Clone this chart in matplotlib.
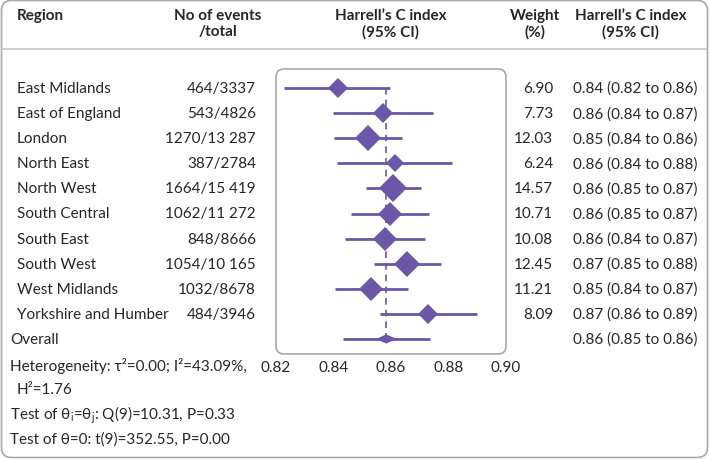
import matplotlib
matplotlib.use('agg')
import matplotlib.pyplot as plt
from matplotlib.patches import FancyBboxPatch, Polygon
import numpy as np

regions = ['East Midlands', 'East of England', 'London', 'North East',
           'North West', 'South Central', 'South East', 'South West',
           'West Midlands', 'Yorkshire and Humber']
events = ['464/3337', '543/4826', '1270/13 287', '387/2784', '1664/15 419',
          '1062/11 272', '848/8666', '1054/10 165', '1032/8678', '484/3946']
cindex = [0.8415, 0.8573, 0.8519, 0.8614, 0.8608, 0.8597, 0.8579, 0.8657,
          0.8530, 0.8730]
ci_lo = [0.8229, 0.8399, 0.8400, 0.8413, 0.8512, 0.8461, 0.8440, 0.8542,
         0.8405, 0.8562]
ci_hi = [0.8597, 0.8747, 0.8639, 0.8813, 0.8703, 0.8732, 0.8718, 0.8774,
         0.8658, 0.8898]
weights = [6.90, 7.73, 12.03, 6.24, 14.57, 10.71, 10.08, 12.45, 11.21, 8.09]
ci_text = ['0.84 (0.82 to 0.86)', '0.86 (0.84 to 0.87)', '0.85 (0.84 to 0.86)',
           '0.86 (0.84 to 0.88)', '0.86 (0.85 to 0.87)', '0.86 (0.85 to 0.87)',
           '0.86 (0.84 to 0.87)', '0.87 (0.85 to 0.88)', '0.85 (0.84 to 0.87)',
           '0.87 (0.86 to 0.89)']
overall_est = 0.8583
overall_ci = (0.8548, 0.8621)
overall_pi = (0.8432, 0.8736)
overall_text = '0.86 (0.85 to 0.86)'
xticks = [0.82, 0.84, 0.86, 0.88, 0.90]

purple = '#6b56a7'
txt = '#262626'
W, H = 709, 460
fam = ['Lato', 'DejaVu Sans']
plt.rcParams['font.family'] = fam
plt.rcParams['mathtext.fontset'] = 'custom'
plt.rcParams['mathtext.rm'] = 'Lato'
plt.rcParams['mathtext.it'] = 'Lato'

fig = plt.figure(figsize=(W / 100, H / 100), dpi=100)
bg = fig.add_axes([0, 0, 1, 1])
bg.set_xlim(0, W)
bg.set_ylim(H, 0)
bg.axis('off')

# outer frame + header rule
bg.add_patch(FancyBboxPatch((1.5, 1.5), W - 3, H - 3,
             boxstyle='round,pad=0,rounding_size=10', fill=False,
             ec='#a8a8a8', lw=1.2))
bg.plot([1.5, W - 1.5], [50, 50], color='#c4c4c4', lw=1.2)

fs = 11
hdr = dict(fontsize=fs, fontweight='bold', color=txt)
bg.text(17, 16, 'Region', ha='left', va='center', **hdr)
bg.text(218, 16, 'No of events', ha='center', va='center', **hdr)
bg.text(218, 32, '/total', ha='center', va='center', **hdr)
bg.text(391, 16, "Harrell’s C index", ha='center', va='center', **hdr)
bg.text(391, 32, '(95% CI)', ha='center', va='center', **hdr)
bg.text(535, 16, 'Weight', ha='center', va='center', **hdr)
bg.text(535, 32, '(%)', ha='center', va='center', **hdr)
bg.text(631, 16, "Harrell’s C index", ha='center', va='center', **hdr)
bg.text(631, 32, '(95% CI)', ha='center', va='center', **hdr)

row0, dy = 89, 25.1
for i, r in enumerate(regions):
    y = row0 + i * dy
    bg.text(17, y, r, ha='left', va='center', fontsize=fs, color=txt)
    bg.text(256, y, events[i], ha='right', va='center', fontsize=fs, color=txt)
    bg.text(553, y, '%.2f' % weights[i], ha='right', va='center',
            fontsize=fs, color=txt)
    bg.text(573, y, ci_text[i], ha='left', va='center', fontsize=fs, color=txt)
yo = row0 + len(regions) * dy
bg.text(10, yo, 'Overall', ha='left', va='center', fontsize=fs, color=txt)
bg.text(573, yo, overall_text, ha='left', va='center', fontsize=fs, color=txt)

bg.text(10, 366, 'Heterogeneity: τ²=0.00; I²=43.09%,', ha='left',
        va='center', fontsize=fs, color=txt)
bg.text(17, 390, 'H²=1.76', ha='left', va='center', fontsize=fs, color=txt)
bg.text(10, 415, r'Test of θ$_\mathrm{i}$=θ$_\mathrm{j}$: Q(9)=10.31, P=0.33',
        ha='left', va='center', fontsize=fs, color=txt)
bg.text(10, 440, 'Test of θ=0: t(9)=352.55, P=0.00', ha='left',
        va='center', fontsize=fs, color=txt)

# forest plot box
x0, x1, y0, y1 = 276, 506, 70, 355
bg.add_patch(FancyBboxPatch((x0, y0), x1 - x0, y1 - y0,
             boxstyle='round,pad=0,rounding_size=8', fill=False,
             ec='#a8a8a8', lw=1.2))
ax = fig.add_axes([x0 / W, 1 - y1 / H, (x1 - x0) / W, (y1 - y0) / H])
ax.patch.set_alpha(0)
for s in ax.spines.values():
    s.set_visible(False)
ax.set_xlim(0.82, 0.90)
ax.set_ylim((y1 - row0) / dy, (y0 - row0) / dy)
ax.set_yticks([])
ax.set_xticks(xticks)
ax.set_xticklabels(['%.2f' % t for t in xticks], fontsize=fs, color=txt)
ax.tick_params(axis='x', length=0, pad=4)

ys = np.arange(len(regions))
ax.plot([overall_est, overall_est], [0, len(regions)], color=purple,
        lw=1.2, ls=(0, (4, 3)), zorder=1)
ax.hlines(ys, ci_lo, ci_hi, color=purple, lw=2, zorder=2)
for i in ys:
    ax.plot(cindex[i], i, marker='D', color=purple, mec=purple, mew=0,
            ms=3.75 * np.sqrt(weights[i]), zorder=3)
n = len(regions)
ax.hlines(n, overall_pi[0], overall_pi[1], color=purple, lw=2, zorder=2)
h = 0.18
ax.add_patch(Polygon([(overall_ci[0], n), (overall_est, n - h),
                      (overall_ci[1], n), (overall_est, n + h)],
                     closed=True, fc=purple, ec='none', zorder=3))

fig.savefig('out.png', dpi=100)
